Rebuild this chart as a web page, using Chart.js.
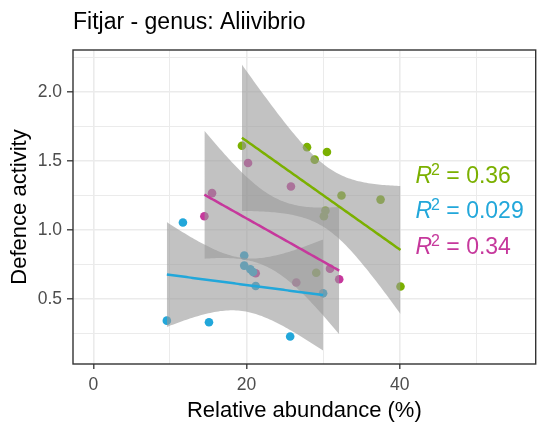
<!DOCTYPE html>
<html>
<head>
<meta charset="utf-8">
<script src="https://cdn.jsdelivr.net/npm/chart.js@4.4.0/dist/chart.umd.min.js"></script>
<style>
    body { margin: 0; background: #ffffff; overflow: hidden; }
    canvas { display: block; }
</style>
</head>
<body>
<canvas id="myChart" width="540" height="423"></canvas>
<script>
// Dane
var chartTitle = 'Fitjar - genus: Aliivibrio';
var xTitle = 'Relative abundance (%)';
var yTitle = 'Defence activity';

var groupColors = ['#7BB000', '#22A7DA', '#C6389C'];
var r2Labels = ['0.36', '0.029', '0.34'];

var greenX = [19.4, 27.9, 30.5, 28.9, 32.4, 37.5, 30.3, 30.1, 29.1, 40.1];
var greenY = [1.61, 1.60, 1.565, 1.51, 1.25, 1.22, 1.14, 1.10, 0.69, 0.59];

var blueX = [9.6, 11.7, 15.1, 19.7, 19.7, 20.5, 20.85, 21.2, 25.7, 30.0];
var blueY = [0.343, 1.054, 0.331, 0.815, 0.742, 0.715, 0.695, 0.594, 0.228, 0.541];

var magentaX = [14.5, 15.5, 20.2, 25.8, 21.2, 26.5, 30.9, 32.1];
var magentaY = [1.10, 1.267, 1.485, 1.315, 0.686, 0.62, 0.72, 0.643];

var xTicks = [0, 20, 40];
var yTicks = [0.5, 1.0, 1.5, 2.0];

// kwantyle t (0.975) dla df = n - 2
var tQuantiles = { 6: 2.4469, 7: 2.3646, 8: 2.3060 };

function toPoints(xs, ys) {
    return xs.map(function(x, i) { return { x: x, y: ys[i] }; });
}

// dopasowanie lm + 95% przedzial ufnosci (jak geom_smooth)
function linearFit(xs, ys) {
    var n = xs.length;
    var mx = 0, my = 0;
    for (var i = 0; i < n; i++) { mx += xs[i]; my += ys[i]; }
    mx /= n; my /= n;
    var sxx = 0, sxy = 0;
    for (var i = 0; i < n; i++) {
        sxx += (xs[i] - mx) * (xs[i] - mx);
        sxy += (xs[i] - mx) * (ys[i] - my);
    }
    var slope = sxy / sxx;
    var icpt = my - slope * mx;
    var sse = 0;
    for (var i = 0; i < n; i++) {
        var r = ys[i] - (icpt + slope * xs[i]);
        sse += r * r;
    }
    var s = Math.sqrt(sse / (n - 2));
    var t = tQuantiles[n - 2];
    var xmin = Math.min.apply(null, xs), xmax = Math.max.apply(null, xs);
    var line = [], upper = [], lower = [];
    for (var k = 0; k < 80; k++) {
        var x = xmin + (xmax - xmin) * k / 79;
        var fit = icpt + slope * x;
        var se = s * Math.sqrt(1 / n + (x - mx) * (x - mx) / sxx);
        line.push({ x: x, y: fit });
        upper.push({ x: x, y: fit + t * se });
        lower.push({ x: x, y: fit - t * se });
    }
    return { line: line, upper: upper, lower: lower };
}

var groups = [
    { xs: greenX, ys: greenY },
    { xs: blueX, ys: blueY },
    { xs: magentaX, ys: magentaY }
];

var lineSets = [], bandSets = [], pointSets = [];
groups.forEach(function(g, i) {
    var f = linearFit(g.xs, g.ys);
    lineSets.push({
        data: f.line, borderColor: groupColors[i], borderWidth: 2.5,
        pointRadius: 0, fill: false, tension: 0
    });
    bandSets.push({
        data: f.upper, borderWidth: 0, borderColor: 'rgba(0,0,0,0)',
        pointRadius: 0, fill: false
    });
    bandSets.push({
        data: f.lower, borderWidth: 0, borderColor: 'rgba(0,0,0,0)',
        pointRadius: 0, fill: '-1', backgroundColor: 'rgba(153,153,153,0.6)'
    });
    pointSets.push({
        data: toPoints(g.xs, g.ys), showLine: false,
        pointRadius: 4.3, pointBackgroundColor: groupColors[i],
        pointBorderColor: groupColors[i], pointBorderWidth: 0
    });
});

// pierwszy w tablicy rysowany na wierzchu
var datasets = lineSets.concat(bandSets).concat(pointSets);

var FONT = "'Liberation Sans', Arial, sans-serif";

var decorPlugin = {
    id: 'decor',
    afterDatasetsDraw: function(chart) {
        var ctx = chart.ctx;
        var a = chart.chartArea;
        var xs = chart.scales.x, ys = chart.scales.y;
        ctx.save();
        // ramka panelu
        ctx.strokeStyle = '#333333';
        ctx.lineWidth = 1.4;
        ctx.strokeRect(a.left, a.top, a.right - a.left, a.bottom - a.top);

        // etykiety R^2
        var labelX = 42.05;
        var labelBase = [1.34, 1.086, 0.827];
        for (var i = 0; i < r2Labels.length; i++) {
            var px = xs.getPixelForValue(labelX);
            var py = ys.getPixelForValue(labelBase[i]);
            ctx.fillStyle = groupColors[i];
            ctx.textBaseline = 'alphabetic';
            ctx.textAlign = 'left';
            ctx.font = 'italic 23px ' + FONT;
            ctx.fillText('R', px, py);
            var w = ctx.measureText('R').width;
            ctx.font = '16px ' + FONT;
            ctx.fillText('2', px + w - 1, py - 8);
            var w2 = ctx.measureText('2').width;
            ctx.font = '23px ' + FONT;
            ctx.fillText(' = ' + r2Labels[i], px + w - 1 + w2, py);
        }
        ctx.restore();
    },
    afterDraw: function(chart) {
        var ctx = chart.ctx;
        ctx.save();
        ctx.fillStyle = '#000000';
        ctx.font = '23px ' + FONT;
        ctx.textAlign = 'left';
        ctx.textBaseline = 'alphabetic';
        ctx.fillText(chartTitle, chart.chartArea.left, 29);
        ctx.restore();
    }
};

var ctx = document.getElementById('myChart').getContext('2d');
window.myChart = new Chart(ctx, {
    type: 'line',
    data: { datasets: datasets },
    options: {
        responsive: false,
        animation: false,
        events: [],
        layout: { padding: { top: 50, right: 1, left: 0, bottom: 0 } },
        plugins: {
            legend: { display: false },
            tooltip: { enabled: false }
        },
        scales: {
            x: {
                type: 'linear',
                min: -2.65,
                max: 57.75,
                afterFit: function(scale) { scale.height = 59; },
                border: { display: false },
                grid: {
                    color: '#EBEBEB',
                    lineWidth: function(c) { return xTicks.indexOf(c.tick.value) >= 0 ? 1.6 : 1; },
                    tickColor: function(c) { return xTicks.indexOf(c.tick.value) >= 0 ? '#333333' : 'rgba(0,0,0,0)'; },
                    tickLength: 5,
                    tickWidth: 1.3
                },
                ticks: {
                    stepSize: 10,
                    includeBounds: false,
                    autoSkip: false,
                    maxRotation: 0,
                    padding: 6,
                    color: '#4D4D4D',
                    font: { family: FONT, size: 17.5 },
                    callback: function(v) { return xTicks.indexOf(v) >= 0 ? String(v) : ''; }
                },
                title: {
                    display: true,
                    text: xTitle,
                    color: '#000000',
                    font: { family: FONT, size: 22, lineHeight: 1 },
                    padding: { top: 0, bottom: 1 }
                }
            },
            y: {
                min: 0.029,
                max: 2.304,
                afterFit: function(scale) { scale.width = 73; },
                border: { display: false },
                grid: {
                    color: '#EBEBEB',
                    lineWidth: function(c) { return yTicks.indexOf(c.tick.value) >= 0 ? 1.6 : 1; },
                    tickColor: function(c) { return yTicks.indexOf(c.tick.value) >= 0 ? '#333333' : 'rgba(0,0,0,0)'; },
                    tickLength: 6,
                    tickWidth: 1.3
                },
                ticks: {
                    stepSize: 0.25,
                    includeBounds: false,
                    autoSkip: false,
                    padding: 5,
                    color: '#4D4D4D',
                    font: { family: FONT, size: 17.5 },
                    callback: function(v) { return yTicks.indexOf(v) >= 0 ? v.toFixed(1) : ''; }
                },
                title: {
                    display: true,
                    text: yTitle,
                    color: '#000000',
                    font: { family: FONT, size: 22, lineHeight: 1 },
                    padding: { top: 9, bottom: 0 }
                }
            }
        }
    },
    plugins: [decorPlugin]
});
</script>
</body>
</html>
